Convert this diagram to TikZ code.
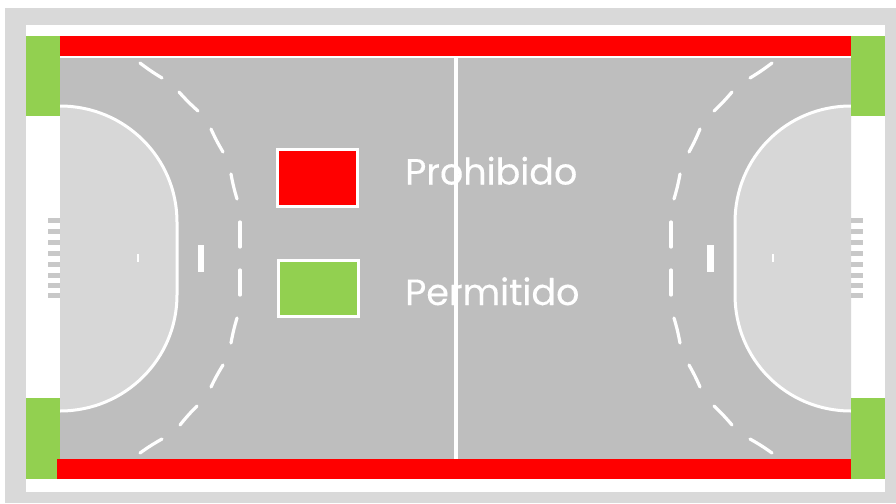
\documentclass[tikz,border=0pt]{standalone}
\usepackage{fontspec}
\setmainfont{Poppins}[FakeBold=0.25]
\definecolor{outerg}{HTML}{D9D9D9}
\definecolor{courtg}{HTML}{BEBEBE}
\definecolor{areag}{HTML}{D7D7D7}
\definecolor{stripeg}{HTML}{C8C8C8}
\definecolor{okgreen}{HTML}{92D050}
\begin{document}
\begin{tikzpicture}[x=1pt,y=-1pt,
  courtline/.style={draw=white,line width=3pt},
  dashmark/.style={draw=white,line width=3.2pt,line cap=round},
  legendbox/.style={draw=white,line width=3pt,fill=#1},
  legendtext/.style={text=white,font=\fontsize{36.5}{36.5}\selectfont,anchor=base west,inner sep=0pt}]
\useasboundingbox (0,0) rectangle (896,503);
\fill[white] (0,0) rectangle (896,503);
\fill[outerg] (5,8) rectangle (896,503);
\fill[white] (26,25) rectangle (885,492);
\fill[courtg] (60,57) rectangle (851,459);
% goal areas
\path[fill=areag] (60,106) .. controls (125,106) and (177,158) .. (177,222) -- (177,295) .. controls (177,359) and (125,411) .. (60,411) -- cycle;
\path[fill=areag] (851,106) .. controls (786,106) and (735,158) .. (735,222) -- (735,295) .. controls (735,359) and (786,411) .. (851,411) -- cycle;
\draw[courtline] (60,106) .. controls (125,106) and (177,158) .. (177,222) -- (177,295) .. controls (177,359) and (125,411) .. (60,411);
\draw[courtline] (851,106) .. controls (786,106) and (735,158) .. (735,222) -- (735,295) .. controls (735,359) and (786,411) .. (851,411);
% top line and centre line
\draw[white,line width=2.4pt] (60,57) -- (851,57);
\draw[white,line width=3.4pt] (456,58) -- (456,459);
% dashed free-throw lines
\foreach \xa/\ya/\xb/\yb in {140/63/162/78,179/92/198/111,211/129/223/152,231/174/237/199,237/318/231/343,223/365/211/387,197/406/180/425,162/439/140/453}
  \draw[dashmark] (\xa,\ya) to[bend right=3] (\xb,\yb);
\foreach \xa/\ya/\xb/\yb in {772/63/750/78,732/92/714/111,700/129/689/152,680/174/674/199,674/318/680/343,689/365/700/387,714/406/732/425,750/439/772/453}
  \draw[dashmark] (\xa,\ya) to[bend left=3] (\xb,\yb);
\foreach \xa/\ya/\xb/\yb in {240/222/240/247,240/270/240/295,671/222/671/247,671/270/671/295}
  \draw[dashmark] (\xa,\ya) -- (\xb,\yb);
% marks
\fill[white] (198,245) rectangle (204,272);
\fill[white] (707,245) rectangle (714,272);
\fill[white] (136.5,254) rectangle (138.5,262);
\fill[white] (772,254) rectangle (774,262);
% goal stripes
\foreach \y in {218,229,240,251,262,273,283,293}{
  \fill[stripeg] (48,\y) rectangle (60,\y+5);
  \fill[stripeg] (851,\y) rectangle (863,\y+5);
}
% restricted and allowed zones
\fill[okgreen] (26,36) rectangle (60,116);
\fill[okgreen] (851,36) rectangle (885,116);
\fill[okgreen] (26,398) rectangle (60,479);
\fill[okgreen] (851,398) rectangle (885,479);
\fill[red] (60,36) rectangle (851,56);
\fill[red] (57,459) rectangle (851,479);
% legend
\node[legendbox=red,minimum width=80pt,minimum height=57pt,inner sep=0pt,outer sep=0pt] (boxno) at (317.5,177.5) {};
\node[legendbox=okgreen,minimum width=80pt,minimum height=56pt,inner sep=0pt,outer sep=0pt] (boxyes) at (318.5,288.5) {};
\node[legendtext] (textno) at (405,184.5) {Prohibido};
\node[legendtext] (textyes) at (405,305) {Permitido};
\end{tikzpicture}
\end{document}
